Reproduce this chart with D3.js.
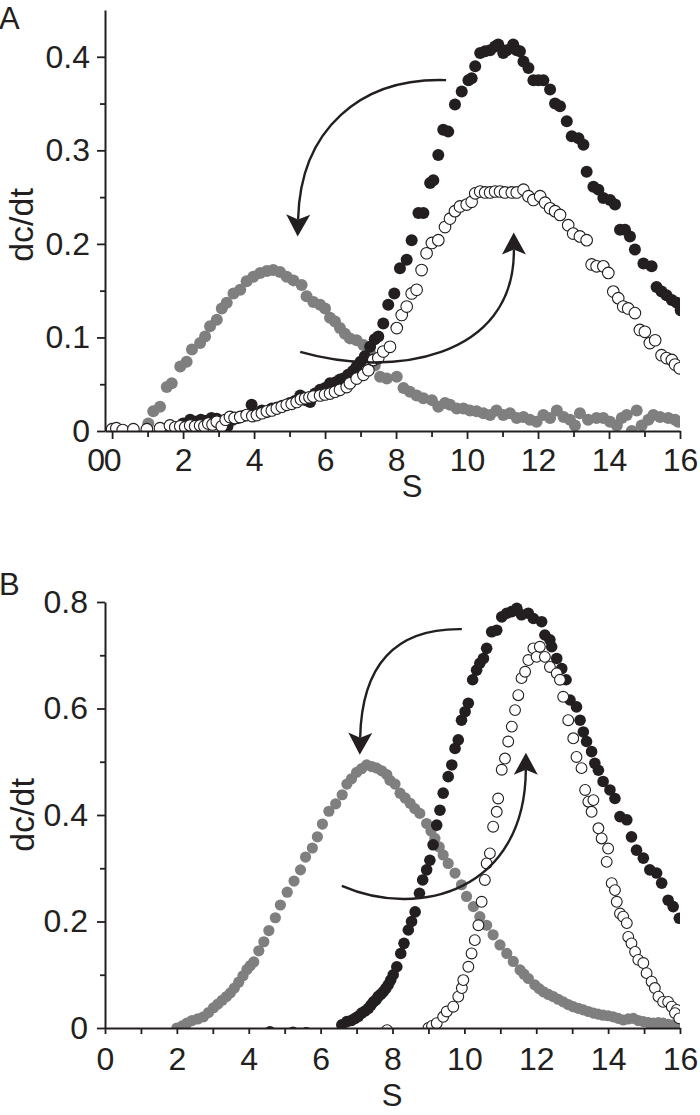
<!DOCTYPE html>
<html>
<head>
<meta charset="utf-8">
<script src="https://cdn.jsdelivr.net/npm/d3@7"></script>
<style>
  body { margin: 0; background: #fff; }
  text { font-family: "Liberation Sans", Arial, sans-serif; fill: #231f20; }
</style>
</head>
<body>
<svg id="chart" width="700" height="1115"></svg>
<script>
const ink = "#231f20";
const grey = "#7f7f7f";

// ---- panel A data: [S, dc/dt] ----
const aGrey = [[1.02,0.008],[1.16,0.021],[1.35,0.026],[1.54,0.047],[1.68,0.051],[1.92,0.069],[2.10,0.074],[2.25,0.087],[2.48,0.094],[2.62,0.101],[2.76,0.112],[2.95,0.119],[3.09,0.131],[3.23,0.137],[3.42,0.147],[3.61,0.151],[3.79,0.160],[3.98,0.165],[4.17,0.169],[4.36,0.171],[4.54,0.172],[4.73,0.170],[4.92,0.165],[5.11,0.161],[5.34,0.156],[5.48,0.144],[5.67,0.138],[5.86,0.135],[6.00,0.131],[6.14,0.121],[6.28,0.117],[6.42,0.110],[6.56,0.104],[6.70,0.099],[6.89,0.097],[7.08,0.092],[7.27,0.083],[7.40,0.070],[7.55,0.058],[7.74,0.056],[8.02,0.058],[8.21,0.046],[8.39,0.042],[8.58,0.038],[8.77,0.035],[9.01,0.033],[9.19,0.026],[9.38,0.030],[9.52,0.028],[9.71,0.024],[9.90,0.024],[10.08,0.022],[10.27,0.021],[10.46,0.019],[10.65,0.017],[10.83,0.022],[11.02,0.017],[11.21,0.019],[11.40,0.014],[11.59,0.015],[11.77,0.012],[11.96,0.010],[12.15,0.017],[12.34,0.014],[12.53,0.022],[12.72,0.015],[12.90,0.012],[13.04,0.006],[13.18,0.019],[13.41,0.012],[13.65,0.014],[13.84,0.014],[14.03,0.010],[14.22,0.006],[14.36,0.014],[14.50,0.017],[14.64,0.000],[14.78,0.022],[14.92,0.006],[15.11,0.012],[15.25,0.017],[15.44,0.015],[15.67,0.014],[15.86,0.012],[15.95,0.010]];

const aBlack = [[2.00,0.008],[2.20,0.012],[2.35,0.010],[2.50,0.012],[2.65,0.011],[2.80,0.014],[2.95,0.013],[3.10,0.010],[3.25,0.005],[3.40,0.012],[3.55,0.014],[3.70,0.016],[3.93,0.028],[4.05,0.018],[4.22,0.022],[4.35,0.020],[4.50,0.024],[4.65,0.025],[4.80,0.027],[5.01,0.030],[5.15,0.032],[5.30,0.038],[5.45,0.033],[5.58,0.031],[5.72,0.040],[5.86,0.044],[6.00,0.046],[6.14,0.051],[6.30,0.052],[6.42,0.055],[6.52,0.056],[6.65,0.060],[6.78,0.064],[6.89,0.069],[7.00,0.074],[7.12,0.080],[7.27,0.090],[7.40,0.098],[7.50,0.101],[7.64,0.115],[7.78,0.135],[7.95,0.147],[8.11,0.174],[8.30,0.183],[8.44,0.204],[8.63,0.233],[8.77,0.233],[8.96,0.265],[9.05,0.268],[9.19,0.295],[9.33,0.322],[9.47,0.320],[9.66,0.349],[9.85,0.363],[10.04,0.375],[10.13,0.377],[10.23,0.390],[10.37,0.404],[10.51,0.406],[10.65,0.407],[10.79,0.411],[10.88,0.413],[11.02,0.404],[11.12,0.407],[11.30,0.413],[11.40,0.407],[11.49,0.406],[11.59,0.395],[11.73,0.388],[11.87,0.375],[12.01,0.375],[12.15,0.375],[12.34,0.365],[12.48,0.350],[12.62,0.347],[12.81,0.331],[12.95,0.315],[13.14,0.313],[13.28,0.306],[13.37,0.277],[13.56,0.261],[13.70,0.258],[13.84,0.249],[14.03,0.247],[14.17,0.242],[14.31,0.215],[14.45,0.215],[14.59,0.208],[14.73,0.194],[14.97,0.179],[15.20,0.176],[15.34,0.154],[15.48,0.149],[15.62,0.145],[15.77,0.140],[15.91,0.137],[16.02,0.129]];

const aOpen = [[0.00,0.002],[0.12,0.003],[0.30,0.001],[0.60,0.002],[0.98,0.002],[1.35,0.003],[1.63,0.006],[1.78,0.004],[1.92,0.005],[2.06,0.004],[2.20,0.006],[2.34,0.005],[2.48,0.006],[2.60,0.005],[2.71,0.008],[2.83,0.007],[2.95,0.010],[3.09,0.005],[3.20,0.012],[3.32,0.015],[3.45,0.014],[3.61,0.015],[3.79,0.017],[3.95,0.016],[4.08,0.017],[4.22,0.019],[4.36,0.021],[4.50,0.022],[4.64,0.024],[4.78,0.026],[4.92,0.028],[5.06,0.029],[5.20,0.031],[5.32,0.034],[5.44,0.035],[5.56,0.036],[5.67,0.037],[5.86,0.038],[6.00,0.039],[6.14,0.040],[6.28,0.042],[6.42,0.044],[6.61,0.047],[6.70,0.051],[6.89,0.056],[7.08,0.060],[7.22,0.065],[7.36,0.076],[7.50,0.078],[7.64,0.085],[7.83,0.090],[8.02,0.110],[8.16,0.124],[8.30,0.133],[8.44,0.147],[8.58,0.151],[8.72,0.172],[8.86,0.190],[9.01,0.201],[9.19,0.204],[9.38,0.218],[9.52,0.227],[9.66,0.235],[9.80,0.240],[9.99,0.242],[10.13,0.245],[10.23,0.254],[10.37,0.256],[10.51,0.255],[10.65,0.255],[10.79,0.256],[10.93,0.256],[11.07,0.255],[11.26,0.255],[11.40,0.255],[11.59,0.258],[11.73,0.251],[11.87,0.247],[12.06,0.251],[12.20,0.244],[12.34,0.238],[12.48,0.235],[12.62,0.231],[12.85,0.220],[12.99,0.211],[13.18,0.208],[13.37,0.204],[13.51,0.178],[13.65,0.176],[13.84,0.176],[13.98,0.169],[14.12,0.149],[14.26,0.142],[14.40,0.133],[14.54,0.131],[14.73,0.126],[14.87,0.108],[15.01,0.106],[15.15,0.094],[15.30,0.097],[15.48,0.081],[15.62,0.078],[15.77,0.076],[15.86,0.071],[15.99,0.067]];

// ---- panel B data ----
const bGrey = [[2.00,0.000],[2.15,0.004],[2.28,0.009],[2.42,0.014],[2.58,0.017],[2.74,0.021],[2.88,0.029],[3.02,0.038],[3.14,0.045],[3.26,0.052],[3.38,0.059],[3.49,0.066],[3.60,0.075],[3.72,0.086],[3.84,0.098],[3.95,0.110],[4.04,0.117],[4.14,0.124],[4.28,0.145],[4.42,0.162],[4.56,0.183],[4.74,0.207],[4.88,0.231],[5.07,0.255],[5.26,0.276],[5.44,0.297],[5.58,0.321],[5.77,0.338],[5.91,0.359],[6.05,0.383],[6.23,0.407],[6.42,0.421],[6.60,0.438],[6.73,0.458],[6.86,0.468],[7.00,0.480],[7.14,0.487],[7.28,0.494],[7.42,0.491],[7.56,0.488],[7.70,0.483],[7.84,0.476],[7.93,0.465],[8.07,0.458],[8.21,0.441],[8.35,0.432],[8.49,0.422],[8.62,0.412],[8.76,0.403],[8.95,0.384],[9.07,0.370],[9.18,0.356],[9.30,0.340],[9.41,0.325],[9.55,0.309],[9.74,0.291],[9.92,0.269],[10.06,0.247],[10.25,0.228],[10.43,0.209],[10.62,0.193],[10.80,0.175],[10.99,0.156],[11.18,0.140],[11.36,0.125],[11.55,0.109],[11.66,0.101],[11.78,0.093],[11.96,0.081],[12.08,0.074],[12.20,0.068],[12.34,0.063],[12.47,0.059],[12.61,0.054],[12.75,0.049],[12.89,0.044],[13.03,0.040],[13.17,0.037],[13.31,0.034],[13.45,0.031],[13.59,0.028],[13.72,0.026],[13.86,0.024],[14.00,0.023],[14.14,0.021],[14.28,0.018],[14.42,0.015],[14.56,0.017],[14.70,0.018],[14.84,0.014],[14.98,0.012],[15.12,0.010],[15.26,0.009],[15.40,0.010],[15.53,0.009],[15.67,0.007],[15.81,0.006],[15.95,0.002]];

const bBlack = [[4.59,-0.007],[5.23,-0.008],[5.60,-0.009],[6.59,0.006],[6.73,0.012],[6.85,0.014],[6.96,0.018],[7.05,0.022],[7.14,0.028],[7.24,0.032],[7.33,0.037],[7.40,0.043],[7.47,0.049],[7.54,0.053],[7.60,0.059],[7.67,0.063],[7.74,0.068],[7.81,0.074],[7.88,0.081],[7.95,0.090],[8.02,0.100],[8.12,0.115],[8.23,0.140],[8.32,0.159],[8.44,0.184],[8.53,0.200],[8.63,0.218],[8.75,0.253],[8.84,0.278],[8.95,0.297],[9.04,0.315],[9.13,0.344],[9.23,0.381],[9.32,0.409],[9.41,0.441],[9.55,0.472],[9.65,0.494],[9.74,0.525],[9.83,0.541],[9.92,0.578],[10.02,0.594],[10.11,0.610],[10.23,0.654],[10.34,0.672],[10.43,0.685],[10.53,0.694],[10.62,0.713],[10.76,0.744],[10.90,0.747],[11.04,0.772],[11.18,0.779],[11.32,0.782],[11.46,0.788],[11.59,0.776],[11.78,0.779],[11.92,0.769],[12.15,0.763],[12.24,0.738],[12.38,0.729],[12.43,0.716],[12.57,0.694],[12.71,0.675],[12.83,0.654],[12.94,0.616],[13.12,0.603],[13.22,0.578],[13.31,0.556],[13.40,0.538],[13.54,0.519],[13.63,0.497],[13.73,0.484],[13.86,0.463],[14.05,0.447],[14.19,0.431],[14.33,0.397],[14.52,0.391],[14.65,0.359],[14.79,0.334],[14.98,0.319],[15.16,0.297],[15.35,0.291],[15.49,0.272],[15.67,0.240],[15.81,0.228],[15.98,0.206]];

const bOpen = [[7.85,-0.004],[9.00,0.000],[9.10,0.004],[9.23,0.009],[9.41,0.021],[9.51,0.031],[9.69,0.040],[9.83,0.059],[9.93,0.075],[9.97,0.090],[10.11,0.115],[10.20,0.140],[10.29,0.165],[10.39,0.193],[10.48,0.237],[10.57,0.278],[10.62,0.309],[10.71,0.328],[10.80,0.378],[10.90,0.406],[10.94,0.431],[11.04,0.485],[11.13,0.506],[11.22,0.538],[11.32,0.566],[11.41,0.597],[11.50,0.625],[11.59,0.657],[11.69,0.669],[11.78,0.691],[11.92,0.713],[12.01,0.697],[12.10,0.716],[12.24,0.697],[12.38,0.678],[12.57,0.666],[12.66,0.654],[12.75,0.622],[12.89,0.578],[13.03,0.544],[13.12,0.509],[13.26,0.488],[13.36,0.447],[13.45,0.425],[13.59,0.428],[13.54,0.406],[13.73,0.375],[13.82,0.356],[14.00,0.337],[13.96,0.312],[14.10,0.272],[14.19,0.259],[14.24,0.237],[14.33,0.215],[14.42,0.209],[14.52,0.197],[14.56,0.171],[14.65,0.159],[14.75,0.143],[14.84,0.128],[14.98,0.122],[15.07,0.103],[15.21,0.087],[15.30,0.075],[15.40,0.059],[15.53,0.049],[15.67,0.049],[15.77,0.040],[15.91,0.034],[15.86,0.028],[15.98,0.018]];

// curved arrows, cubic control points [S, dc/dt]
const aArrows = [
  [[9.41,0.375],[6.99,0.378],[5.30,0.322],[5.24,0.226]],
  [[5.30,0.0845],[7.83,0.0567],[11.35,0.076],[11.32,0.194]]
];
const bArrows = [
  [[9.93,0.749],[8.21,0.751],[7.15,0.691],[7.10,0.545]],
  [[6.59,0.267],[8.76,0.203],[11.69,0.259],[11.71,0.485]]
];

const xMajor = [0, 2, 4, 6, 8, 10, 12, 14, 16];
const xMinor = [1, 3, 5, 7, 9, 11, 13, 15];
const aYMajor = [0, 0.1, 0.2, 0.3, 0.4];
const aYMinor = [0.05, 0.15, 0.25, 0.35];
const bYMajor = [0, 0.2, 0.4, 0.6, 0.8];
const bYMinor = [0.1, 0.3, 0.5, 0.7];

const svg = d3.select("#chart");

const defs = svg.append("defs");
defs.append("marker")
  .attr("id", "head")
  .attr("viewBox", "-2 -14 28 28")
  .attr("markerUnits", "userSpaceOnUse")
  .attr("markerWidth", 28).attr("markerHeight", 28)
  .attr("refX", 5).attr("refY", 0)
  .attr("orient", "auto")
  .append("path")
  .attr("d", "M0,-12L22,0L0,12L5,0Z")
  .attr("fill", ink);

const yFmt = d => d === 0 ? "0" : d.toFixed(1);

function drawPanel(p) {
  const g = svg.append("g");

  // plot area clip: marks are cut at the axes like in the original
  const [xl, xr] = [p.x0, p.x.range()[1]];
  const [yb, yt] = p.y.range();
  defs.append("clipPath").attr("id", "clip" + p.name)
    .append("rect").attr("x", xl).attr("y", yt - 20).attr("width", xr - xl).attr("height", yb - yt + 20);

  // minor ticks
  g.append("g")
    .attr("transform", `translate(0,${p.y(0)})`)
    .call(d3.axisBottom(p.x).tickValues(xMinor).tickSize(6).tickSizeOuter(0).tickFormat(""))
    .call(a => a.select(".domain").remove());
  g.append("g")
    .attr("transform", `translate(${p.x0},0)`)
    .call(d3.axisLeft(p.y).tickValues(p.yMinor).tickSize(5).tickSizeOuter(0).tickFormat(""))
    .call(a => a.select(".domain").remove());

  // data
  const plot = g.append("g").attr("clip-path", `url(#clip${p.name})`);
  plot.append("g").selectAll("circle").data(p.grey).join("circle")
    .attr("cx", d => p.x(d[0])).attr("cy", d => p.y(d[1]))
    .attr("r", p.rGrey).attr("fill", grey);
  plot.append("g").selectAll("circle").data(p.black).join("circle")
    .attr("cx", d => p.x(d[0])).attr("cy", d => p.y(d[1]))
    .attr("r", p.rBlack).attr("fill", ink);
  plot.append("g").selectAll("circle").data(p.open).join("circle")
    .attr("cx", d => p.x(d[0])).attr("cy", d => p.y(d[1]))
    .attr("r", p.rOpen).attr("fill", "#fff").attr("stroke", ink).attr("stroke-width", 1.1);

  g.append("g")
    .attr("transform", `translate(0,${p.y(0)})`)
    .call(d3.axisBottom(p.x).tickValues(xMajor).tickSize(p.xTick).tickPadding(p.xPad)
      .tickSizeOuter(0).tickFormat(d3.format("d")));
  g.append("g")
    .attr("transform", `translate(${p.x0},0)`)
    .call(d3.axisLeft(p.y).tickValues(p.yMajor).tickSize(8).tickPadding(p.yPad)
      .tickSizeOuter(0).tickFormat(yFmt));

  g.selectAll(".domain").attr("stroke", ink).attr("stroke-width", 2);
  g.selectAll(".tick line").attr("stroke", ink).attr("stroke-width", 1.8);
  g.selectAll(".tick text").attr("fill", ink).style("font-size", "32px")
    .style("font-family", '"Liberation Sans", Arial, sans-serif');

  // arrows
  g.append("g").selectAll("path").data(p.arrows).join("path")
    .attr("d", c => {
      const q = c.map(d => [p.x(d[0]), p.y(d[1])]);
      return `M${q[0]}C${q[1]} ${q[2]} ${q[3]}`;
    })
    .attr("fill", "none").attr("stroke", ink).attr("stroke-width", 2.4)
    .attr("marker-end", "url(#head)");

  // labels
  svg.append("text").attr("x", p.xLabel[0]).attr("y", p.xLabel[1])
    .attr("text-anchor", "middle").style("font-size", "31px").text("S");
  svg.append("text")
    .attr("transform", `translate(${p.yLabel[0]},${p.yLabel[1]}) rotate(-90)`)
    .attr("text-anchor", "middle").style("font-size", "34px").text("dc/dt");
  svg.append("text").attr("x", p.letter[0]).attr("y", p.letter[1])
    .style("font-size", "31px").text(p.name);
}

const xA = d3.scaleLinear().domain([-0.2, 16]).range([105, 680]);
const yA = d3.scaleLinear().domain([0, 0.45]).range([431, 10]);
const xB = d3.scaleLinear().domain([0, 16]).range([105, 680]);
const yB = d3.scaleLinear().domain([0, 0.8]).range([1028, 602]);

drawPanel({
  name: "A", x: xA, y: yA, x0: xA(-0.2), yMajor: aYMajor, yMinor: aYMinor,
  xTick: 8, xPad: 9, yPad: 7,
  grey: aGrey, black: aBlack, open: aOpen, arrows: aArrows,
  rGrey: 6, rBlack: 6, rOpen: 5.8,
  xLabel: [412, 497], yLabel: [33, 225], letter: [-1, 29]
});
// second "0" at the axis corner of panel A
svg.append("text").attr("x", xA(0) - 16).attr("y", yA(0) + 17).attr("dy", "0.71em")
  .attr("text-anchor", "middle").style("font-size", "32px").text("0");

drawPanel({
  name: "B", x: xB, y: yB, x0: xB(0), yMajor: bYMajor, yMinor: bYMinor,
  xTick: 6, xPad: 13, yPad: 9,
  grey: bGrey, black: bBlack, open: bOpen, arrows: bArrows,
  rGrey: 5.6, rBlack: 5.8, rOpen: 5.4,
  xLabel: [392, 1106], yLabel: [34, 815], letter: [-1, 595]
});
</script>
</body>
</html>
